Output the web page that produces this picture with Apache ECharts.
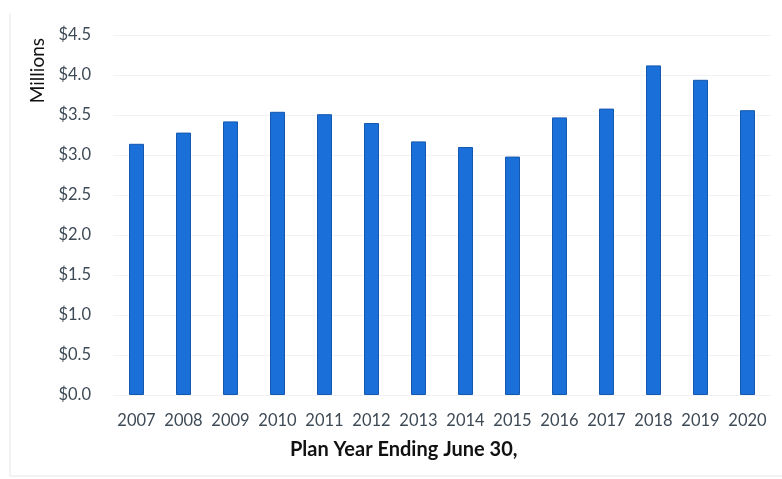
<!DOCTYPE html>
<html>
<head>
<meta charset="utf-8">
<script src="https://cdn.jsdelivr.net/npm/echarts@6/dist/echarts.min.js"></script>
<style>html,body{margin:0;padding:0;background:#fff;}#c{width:782px;height:479px;}</style>
</head>
<body>
<div id="c"></div>
<script>
var categories = ['2007','2008','2009','2010','2011','2012','2013','2014','2015','2016','2017','2018','2019','2020'];
var values = [3.14, 3.28, 3.42, 3.54, 3.51, 3.40, 3.17, 3.10, 2.98, 3.47, 3.58, 4.12, 3.94, 3.56];
var yTicks = ['$0.0','$0.5','$1.0','$1.5','$2.0','$2.5','$3.0','$3.5','$4.0','$4.5'];

var chart = echarts.init(document.getElementById('c'), null, {renderer: 'canvas'});
chart.setOption({
  animation: false,
  backgroundColor: '#fff',
  grid: {left: 113, right: 11, top: 35, bottom: 84},
  xAxis: {
    type: 'category',
    data: categories,
    axisLine: {show: false},
    axisTick: {show: false},
    axisLabel: {color: '#3e4a56', fontSize: 16.5, fontFamily: 'Lato', margin: 17, interval: 0}
  },
  yAxis: {
    type: 'value',
    min: 0, max: 4.5, interval: 0.5,
    axisLine: {show: false},
    axisTick: {show: false},
    splitLine: {lineStyle: {color: '#f2f2f2', width: 1}},
    axisLabel: {
      color: '#3e4a56', fontSize: 16.5, fontFamily: 'Lato', margin: 22,
      formatter: function (v) { return yTicks[Math.round(v / 0.5)]; }
    }
  },
  series: [{
    type: 'bar',
    data: values,
    barWidth: 15,
    itemStyle: {color: '#1b6fd8', borderColor: '#1458b0', borderWidth: 1}
  }],
  graphic: [
    {type: 'text', left: 290, top: 440, style: {text: 'Plan Year Ending June 30,', font: 'bold 20px Lato', fill: '#111'}},
    {type: 'text', left: 28, top: 38, rotation: Math.PI / 2, style: {text: 'Millions', font: '19px Lato', fill: '#111'}},
    {type: 'line', shape: {x1: 10, y1: 14, x2: 10, y2: 476}, style: {stroke: '#e6e6e6', lineWidth: 1}},
    {type: 'line', shape: {x1: 10, y1: 476, x2: 782, y2: 476}, style: {stroke: '#e6e6e6', lineWidth: 1}}
  ]
});
</script>
</body>
</html>
